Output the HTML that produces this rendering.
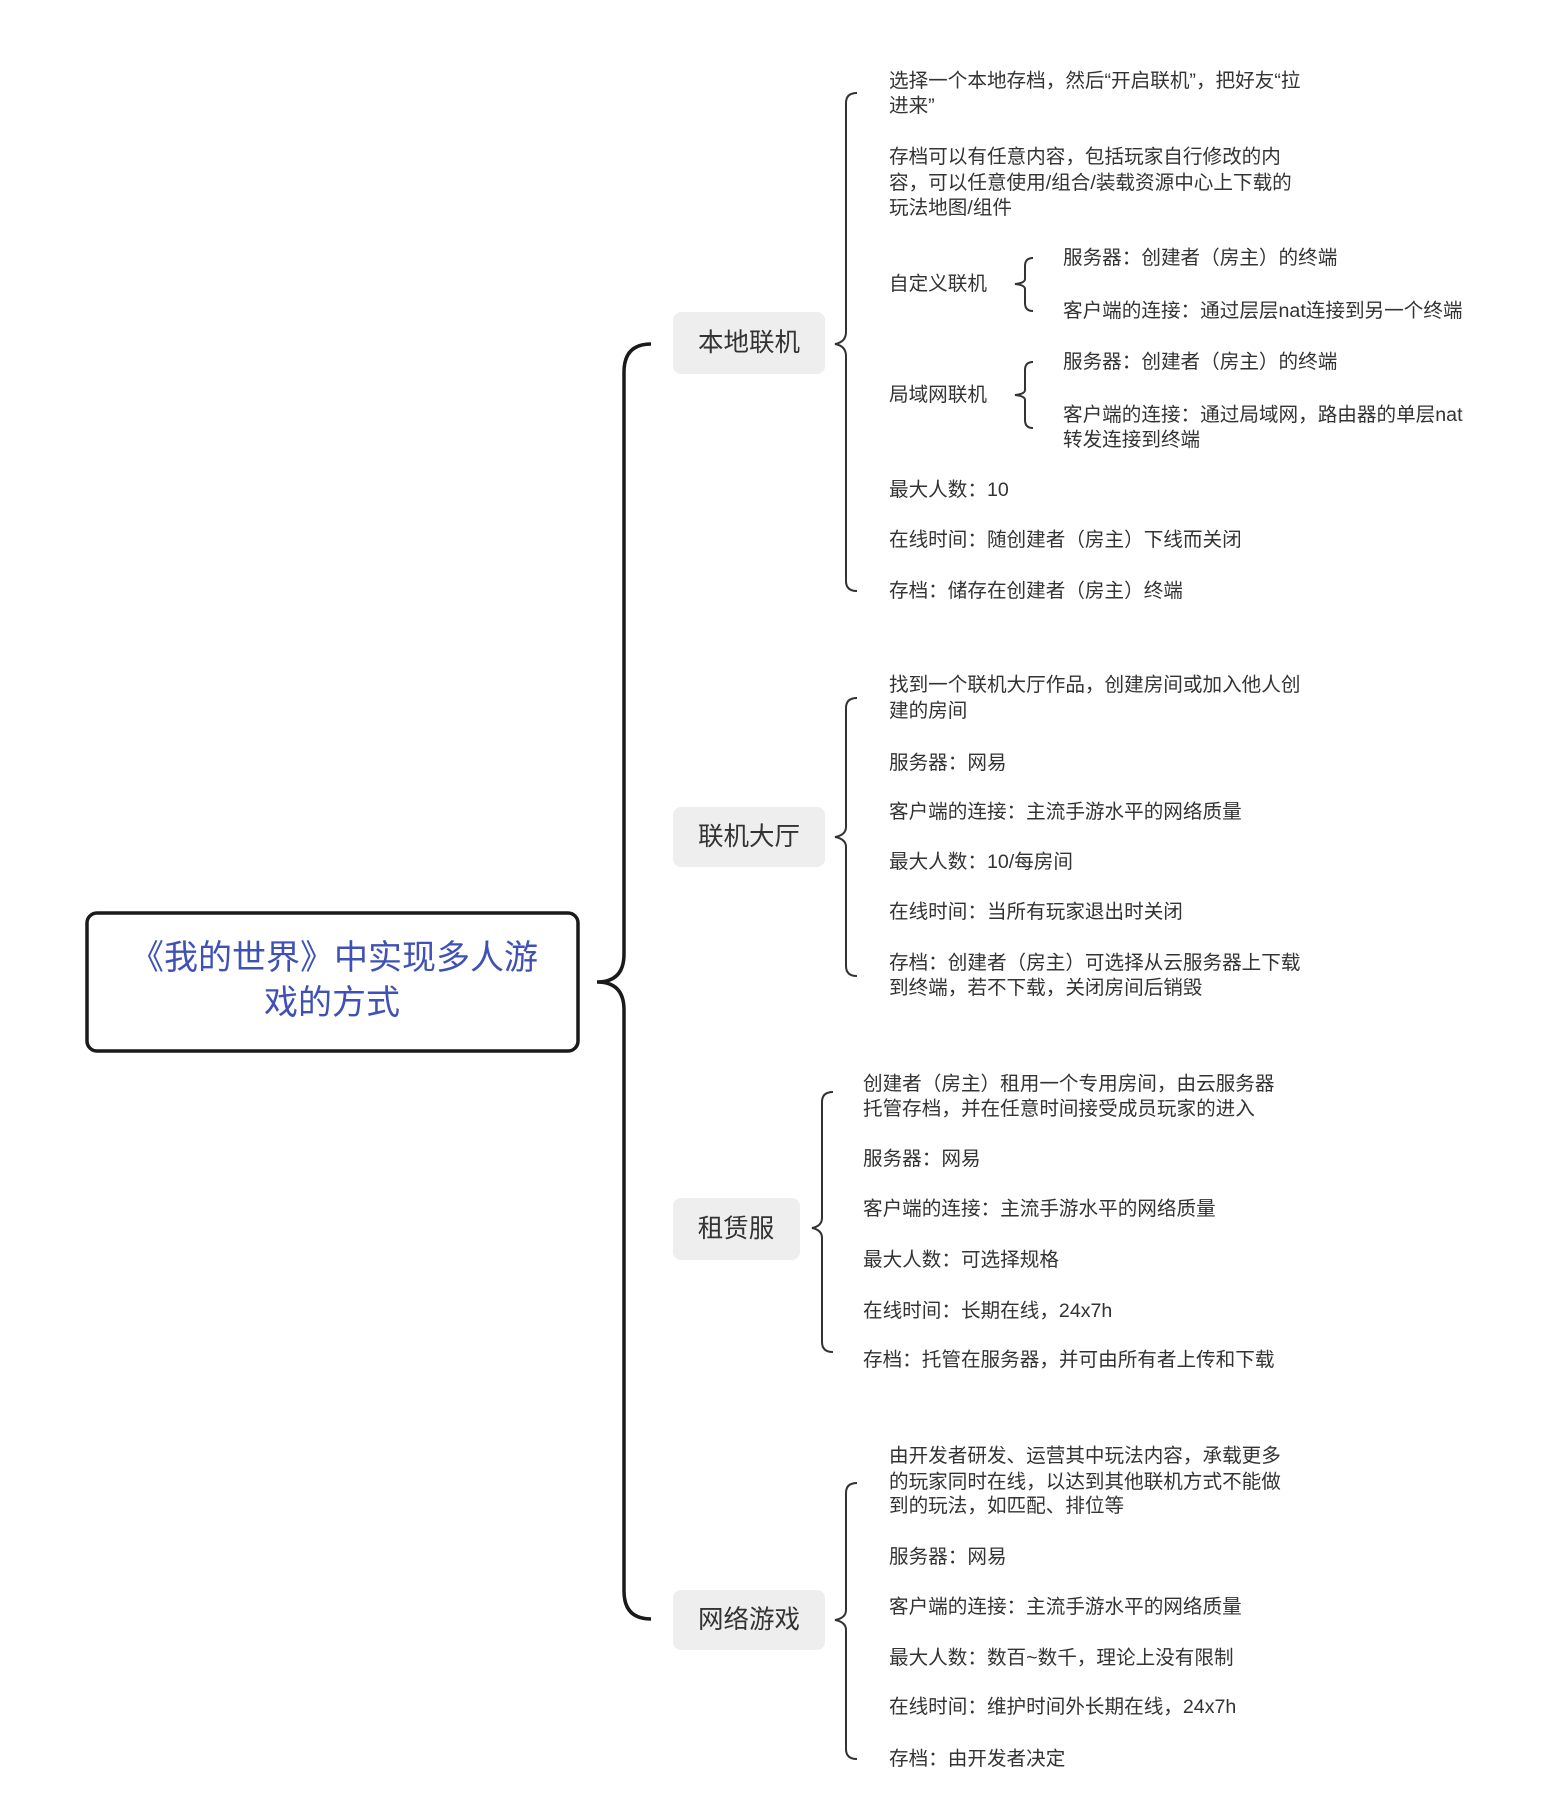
<!DOCTYPE html>
<html><head><meta charset="utf-8"><style>
html,body{margin:0;padding:0;background:#fff;}
svg{display:block;}
text{font-family:"Liberation Sans","Noto Sans CJK SC",sans-serif;}
.t{font-size:19.6px;fill:#333;dominant-baseline:central;}
.n{font-size:25.5px;fill:#333;dominant-baseline:central;text-anchor:middle;}
.b{fill:none;stroke:#333;stroke-width:2;}
</style></head><body>
<svg width="1560" height="1805" viewBox="0 0 1560 1805" xmlns="http://www.w3.org/2000/svg">
<rect x="87" y="913" width="491" height="138" rx="10" fill="#fff" stroke="#1a1a1a" stroke-width="3.5"/>
<text x="334" y="958" font-size="34" fill="#3f51b5" text-anchor="middle" dominant-baseline="central">《我的世界》中实现多人游</text>
<text x="332" y="1003" font-size="34" fill="#3f51b5" text-anchor="middle" dominant-baseline="central">戏的方式</text>
<path d="M651,344 Q624,344 624,372 L624,954 Q624,982 597,982 Q624,982 624,1010 L624,1591 Q624,1619 651,1619" fill="none" stroke="#1a1a1a" stroke-width="3.5"/>
<rect x="673" y="312" width="152" height="62" rx="8" fill="#eeeeee"/>
<text class="n" x="749" y="343">本地联机</text>
<rect x="673" y="807" width="152" height="60" rx="8" fill="#eeeeee"/>
<text class="n" x="749" y="837">联机大厅</text>
<rect x="673" y="1198" width="127" height="62" rx="8" fill="#eeeeee"/>
<text class="n" x="736" y="1229">租赁服</text>
<rect x="673" y="1590" width="152" height="60" rx="8" fill="#eeeeee"/>
<text class="n" x="749" y="1620">网络游戏</text>
<path class="b" d="M857,93 Q846,93 846,103 L846,332 Q846,342 835,344 Q846,346 846,356 L846,581 Q846,591 857,591"/>
<path class="b" d="M857,698 Q846,698 846,708 L846,827 Q846,835 835,837 Q846,839 846,847 L846,966 Q846,976 857,976"/>
<path class="b" d="M833,1092 Q822,1092 822,1102 L822,1218 Q822,1226 812,1228 Q822,1230 822,1238 L822,1342 Q822,1352 833,1352"/>
<path class="b" d="M857,1483 Q846,1483 846,1493 L846,1610 Q846,1618 835,1620 Q846,1622 846,1630 L846,1749 Q846,1759 857,1759"/>
<path class="b" d="M1033,258 Q1025,258 1025,266 L1025,279 Q1025,283 1015,284 Q1025,285 1025,289 L1025,303 Q1025,311 1033,311"/>
<path class="b" d="M1033,362 Q1025,362 1025,370 L1025,390 Q1025,394 1015,395 Q1025,396 1025,400 L1025,420 Q1025,428 1033,428"/>
<text class="t" x="889" y="81">选择一个本地存档，然后“开启联机”，把好友“拉</text>
<text class="t" x="889" y="106">进来”</text>
<text class="t" x="889" y="157">存档可以有任意内容，包括玩家自行修改的内</text>
<text class="t" x="889" y="183">容，可以任意使用/组合/装载资源中心上下载的</text>
<text class="t" x="889" y="208">玩法地图/组件</text>
<text class="t" x="889" y="284">自定义联机</text>
<text class="t" x="1063" y="258">服务器：创建者（房主）的终端</text>
<text class="t" x="1063" y="311">客户端的连接：通过层层nat连接到另一个终端</text>
<text class="t" x="889" y="395">局域网联机</text>
<text class="t" x="1063" y="362">服务器：创建者（房主）的终端</text>
<text class="t" x="1063" y="415">客户端的连接：通过局域网，路由器的单层nat</text>
<text class="t" x="1063" y="440">转发连接到终端</text>
<text class="t" x="889" y="490">最大人数：10</text>
<text class="t" x="889" y="540">在线时间：随创建者（房主）下线而关闭</text>
<text class="t" x="889" y="591">存档：储存在创建者（房主）终端</text>
<text class="t" x="889" y="685">找到一个联机大厅作品，创建房间或加入他人创</text>
<text class="t" x="889" y="711">建的房间</text>
<text class="t" x="889" y="763">服务器：网易</text>
<text class="t" x="889" y="812">客户端的连接：主流手游水平的网络质量</text>
<text class="t" x="889" y="862">最大人数：10/每房间</text>
<text class="t" x="889" y="912">在线时间：当所有玩家退出时关闭</text>
<text class="t" x="889" y="963">存档：创建者（房主）可选择从云服务器上下载</text>
<text class="t" x="889" y="988">到终端，若不下载，关闭房间后销毁</text>
<text class="t" x="863" y="1084">创建者（房主）租用一个专用房间，由云服务器</text>
<text class="t" x="863" y="1109">托管存档，并在任意时间接受成员玩家的进入</text>
<text class="t" x="863" y="1159">服务器：网易</text>
<text class="t" x="863" y="1209">客户端的连接：主流手游水平的网络质量</text>
<text class="t" x="863" y="1260">最大人数：可选择规格</text>
<text class="t" x="863" y="1311">在线时间：长期在线，24x7h</text>
<text class="t" x="863" y="1360">存档：托管在服务器，并可由所有者上传和下载</text>
<text class="t" x="889" y="1456">由开发者研发、运营其中玩法内容，承载更多</text>
<text class="t" x="889" y="1482">的玩家同时在线，以达到其他联机方式不能做</text>
<text class="t" x="889" y="1506">到的玩法，如匹配、排位等</text>
<text class="t" x="889" y="1557">服务器：网易</text>
<text class="t" x="889" y="1607">客户端的连接：主流手游水平的网络质量</text>
<text class="t" x="889" y="1658">最大人数：数百~数千，理论上没有限制</text>
<text class="t" x="889" y="1707">在线时间：维护时间外长期在线，24x7h</text>
<text class="t" x="889" y="1759">存档：由开发者决定</text>
</svg>
</body></html>
